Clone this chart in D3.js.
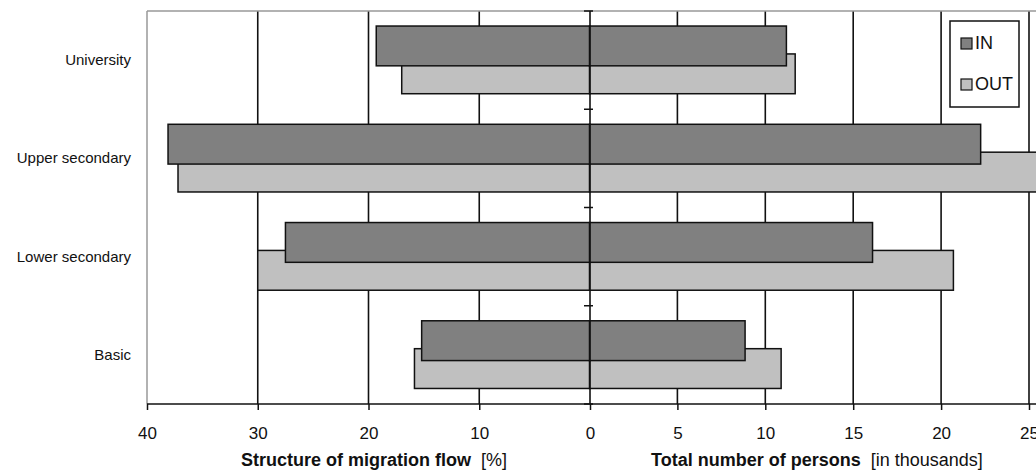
<!DOCTYPE html>
<html><head><meta charset="utf-8">
<script src="https://cdn.jsdelivr.net/npm/d3@7"></script>
<style>body{margin:0;background:#fff}svg{display:block;font-family:"Liberation Sans",Arial,sans-serif}</style>
</head><body><svg id="c" width="1036" height="471"></svg>
<script>
const categories = ["University","Upper secondary","Lower secondary","Basic"];
const series = ["IN","OUT"];
const pctIN  = [19.3, 38.1, 27.5, 15.2];
const pctOUT = [17.0, 37.2, 30.0, 15.85];
const totIN  = [11.2, 22.25, 16.1, 8.85];
const totOUT = [11.7, 26.5, 20.7, 10.9];
const pctTicks = [40,30,20,10,0];
const totTicks = [5,10,15,20,25];
const colors = {IN:"#808080", OUT:"#c0c0c0"};

const svg = d3.select("#c");
const plotTop = 11, plotBottom = 404;
const xL = d3.scaleLinear().domain([40,0]).range([147,590]);
const xR = d3.scaleLinear().domain([0,25]).range([589.5,1029]);
const y = d3.scaleBand().domain(categories).range([plotTop,plotBottom]).padding(0);
const bw = y.bandwidth();
const barH = bw*0.405;
const off = {IN: bw*0.153, OUT: bw*0.437};

// gridlines
const gl = svg.append("g");
pctTicks.filter(t=>t!==40 && t!==0).forEach(t=>{
  gl.append("line").attr("x1",xL(t)).attr("x2",xL(t)).attr("y1",plotTop).attr("y2",plotBottom)
    .attr("stroke","#111").attr("stroke-width",1.6);
});
totTicks.forEach(t=>{
  gl.append("line").attr("x1",xR(t)).attr("x2",xR(t)).attr("y1",plotTop).attr("y2",plotBottom)
    .attr("stroke","#111").attr("stroke-width",1.6);
});
// frame
svg.append("line").attr("x1",147).attr("x2",1036).attr("y1",plotTop).attr("y2",plotTop).attr("stroke","#999").attr("stroke-width",1.5);
svg.append("line").attr("x1",147).attr("x2",147).attr("y1",plotTop).attr("y2",plotBottom).attr("stroke","#999").attr("stroke-width",1.5);

// bars: OUT first then IN on top
const data = {IN:{p:pctIN,t:totIN}, OUT:{p:pctOUT,t:totOUT}};
["OUT","IN"].forEach(s=>{
  const g = svg.append("g");
  categories.forEach((c,i)=>{
    const yy = y(c)+off[s];
    g.append("rect").attr("x",xL(data[s].p[i])).attr("y",yy)
      .attr("width",xL(0)-xL(data[s].p[i])).attr("height",barH)
      .attr("fill",colors[s]).attr("stroke","#111").attr("stroke-width",1.5);
    g.append("rect").attr("x",xR(0)).attr("y",yy)
      .attr("width",xR(data[s].t[i])-xR(0)).attr("height",barH)
      .attr("fill",colors[s]).attr("stroke","#111").attr("stroke-width",1.5);
  });
});

// center axis
svg.append("line").attr("x1",590).attr("x2",590).attr("y1",plotTop).attr("y2",plotBottom).attr("stroke","#111").attr("stroke-width",1.6);
const bounds = categories.map(c=>y(c)).concat([plotBottom]);
bounds.forEach(b=>{
  svg.append("line").attr("x1",584).attr("x2",593).attr("y1",b).attr("y2",b).attr("stroke","#111").attr("stroke-width",1.5);
});

// category labels
categories.forEach(c=>{
  svg.append("text").attr("x",131).attr("y",y(c)+bw/2+5).attr("text-anchor","end")
    .attr("font-size",15).attr("fill","#111").text(c);
});

// bottom axis
svg.append("line").attr("x1",147).attr("x2",1036).attr("y1",plotBottom).attr("y2",plotBottom).attr("stroke","#111").attr("stroke-width",1.6);
const axL = d3.axisBottom(xL).tickValues(pctTicks).tickSize(6).tickFormat(d3.format("d"));
const axR = d3.axisBottom(xR).tickValues(totTicks).tickSize(6).tickFormat(d3.format("d"));
[axL,axR].forEach(ax=>{
  const g = svg.append("g").attr("transform",`translate(0,${plotBottom})`).call(ax);
  g.select(".domain").remove();
  g.selectAll(".tick line").attr("stroke","#111").attr("stroke-width",1.5);
  g.selectAll(".tick text").attr("font-size",17).attr("fill","#111").attr("dy",null).attr("y",35)
    .attr("font-family","Liberation Sans, Arial, sans-serif");
});

// titles
const t1 = svg.append("text").attr("x",374).attr("y",466).attr("text-anchor","middle").attr("font-size",18).attr("fill","#111");
t1.append("tspan").attr("font-weight","bold").text("Structure of migration flow");
t1.append("tspan").attr("dx",10).text("[%]");
const t2 = svg.append("text").attr("x",817).attr("y",466).attr("text-anchor","middle").attr("font-size",18).attr("fill","#111");
t2.append("tspan").attr("font-weight","bold").text("Total number of persons");
t2.append("tspan").attr("dx",10).text("[in thousands]");

// legend
const lg = svg.append("g");
lg.append("rect").attr("x",950).attr("y",21).attr("width",69).attr("height",86).attr("fill","#fff").attr("stroke","#111").attr("stroke-width",1.5);
series.forEach((s,i)=>{
  const yy = 38 + i*41;
  lg.append("rect").attr("x",961).attr("y",yy).attr("width",11).attr("height",11).attr("fill",colors[s]).attr("stroke","#111").attr("stroke-width",1.2);
  lg.append("text").attr("x",975).attr("y",yy+11).attr("font-size",18).attr("fill","#111").text(s);
});
</script></body></html>
